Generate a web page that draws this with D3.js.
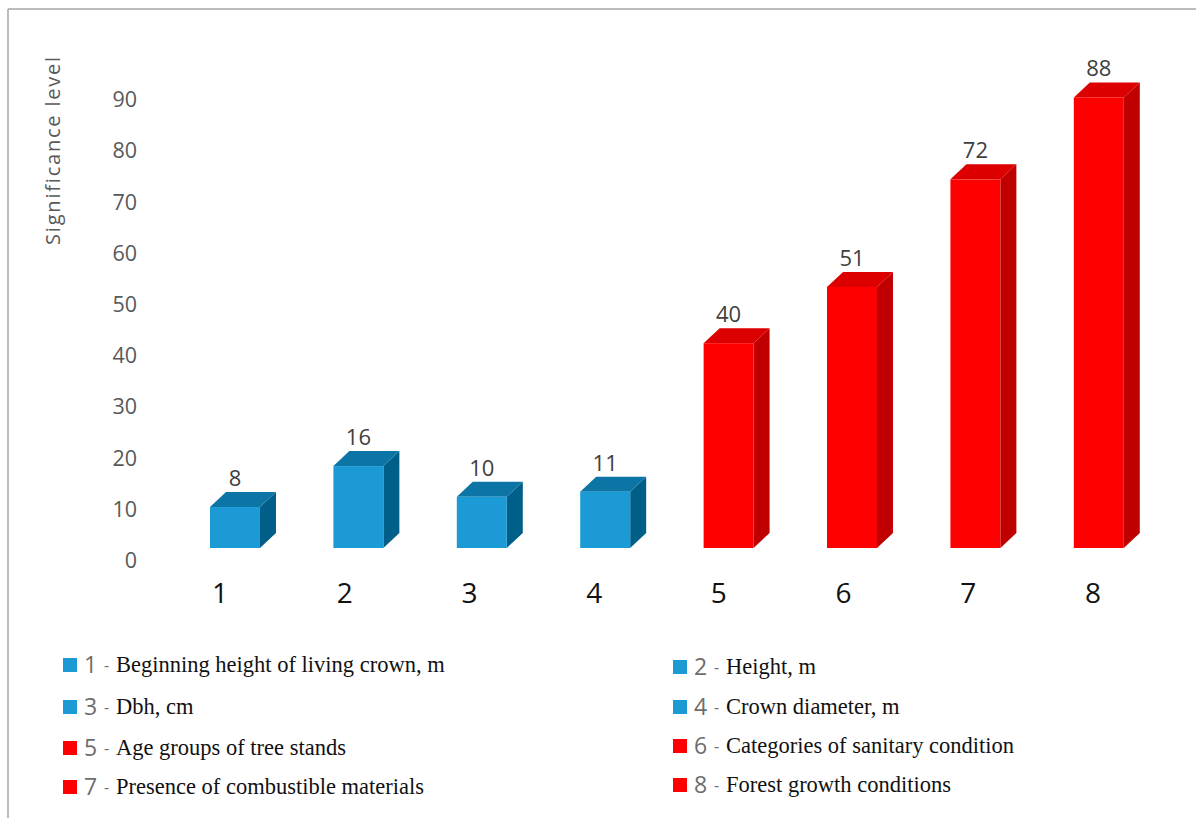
<!DOCTYPE html>
<html>
<head>
<meta charset="utf-8">
<script src="https://cdn.jsdelivr.net/npm/d3@7"></script>
<style>
  html, body { margin: 0; padding: 0; background: #fff; }
  svg { display: block; }
</style>
</head>
<body>
<svg id="chart" width="1196" height="818"></svg>
<script>
const categories = ["1", "2", "3", "4", "5", "6", "7", "8"];
const values = [8, 16, 10, 11, 40, 51, 72, 88];
const groups = ["blue", "blue", "blue", "blue", "red", "red", "red", "red"];
const yTicks = [0, 10, 20, 30, 40, 50, 60, 70, 80, 90];
const legendLabels = [
  "Beginning height of living crown, m",
  "Height, m",
  "Dbh, cm",
  "Crown diameter, m",
  "Age groups of tree stands",
  "Categories of sanitary condition",
  "Presence of combustible materials",
  "Forest growth conditions"
];
const yTitle = "Significance level";

const palette = {
  blue: { front: "#1b9ad6", top: "#0d74a6", side: "#005f88" },
  red:  { front: "#ff0000", top: "#dc0000", side: "#c00000" }
};

const svg = d3.select("#chart");

// frame (top and left lines)
svg.append("line").attr("x1", 8).attr("x2", 1196).attr("y1", 9).attr("y2", 9)
  .attr("stroke", "#a6a6a6").attr("stroke-width", 1.5);
svg.append("line").attr("x1", 8).attr("x2", 8).attr("y1", 9).attr("y2", 818)
  .attr("stroke", "#a6a6a6").attr("stroke-width", 1.5);

// scales
const x = d3.scaleBand().domain(categories).range([210, 1123.8]).paddingInner(0.595).paddingOuter(0);
const yFront = d3.scaleLinear().domain([0, 90]).range([548, 87.2]);
const yAxisScale = d3.scaleLinear().domain([0, 90]).range([560, 99.2]);
const xLabel = d3.scalePoint().domain(categories).range([220, 1093]);

const depthX = 16, depthY = 15;

// Y axis (labels only)
const yAxis = d3.axisLeft(yAxisScale).tickValues(yTicks).tickSize(0).tickPadding(0);
const gy = svg.append("g").attr("transform", "translate(137,0)").call(yAxis);
gy.select(".domain").remove();
gy.selectAll("text")
  .attr("font-family", "'Open Sans', sans-serif")
  .attr("font-size", 21.5)
  .attr("fill", "#595959")
  .attr("dy", "0.35em");

// Y title
svg.append("text")
  .attr("transform", "translate(60,150) rotate(-90)")
  .attr("text-anchor", "middle")
  .attr("font-family", "'Open Sans', sans-serif")
  .attr("font-size", 20)
  .attr("letter-spacing", 1.8)
  .attr("fill", "#595959")
  .text(yTitle);

// bars
const bars = svg.append("g").selectAll("g.bar")
  .data(categories.map((c, i) => ({ c, v: values[i], g: groups[i] })))
  .join("g").attr("class", "bar");

bars.each(function(d) {
  const g = d3.select(this);
  const x0 = x(d.c), w = x.bandwidth();
  const y0 = yFront(0), y1 = yFront(d.v);
  const col = palette[d.g];
  g.append("path")
    .attr("d", `M${x0 + w},${y1} L${x0 + w + depthX},${y1 - depthY} L${x0 + w + depthX},${y0 - depthY} L${x0 + w},${y0} Z`)
    .attr("fill", col.side);
  g.append("path")
    .attr("d", `M${x0},${y1} L${x0 + depthX},${y1 - depthY} L${x0 + w + depthX},${y1 - depthY} L${x0 + w},${y1} Z`)
    .attr("fill", col.top);
  g.append("rect")
    .attr("x", x0).attr("y", y1).attr("width", w).attr("height", y0 - y1)
    .attr("fill", col.front);
  g.append("text")
    .attr("x", x0 + w / 2)
    .attr("y", y1 - depthY - 6)
    .attr("text-anchor", "middle")
    .attr("font-family", "'Open Sans', sans-serif")
    .attr("font-size", 22)
    .attr("fill", "#404040")
    .text(d.v);
});

// x category labels
svg.append("g").selectAll("text")
  .data(categories)
  .join("text")
  .attr("x", d => xLabel(d))
  .attr("y", 593)
  .attr("dy", "0.35em")
  .attr("text-anchor", "middle")
  .attr("font-family", "'Open Sans', sans-serif")
  .attr("font-size", 28)
  .attr("fill", "#111")
  .text(d => d);

// legend
const colX = [63, 673];
const rowY = [[665, 707, 748, 787], [667, 707, 746, 785]];
const legend = svg.append("g").selectAll("g.item")
  .data(legendLabels.map((t, i) => ({ t, i })))
  .join("g").attr("class", "item")
  .attr("transform", d => {
    const col = d.i % 2, row = Math.floor(d.i / 2);
    return `translate(${colX[col]},${rowY[col][row]})`;
  });

legend.append("rect")
  .attr("x", 0).attr("y", -7).attr("width", 14).attr("height", 14)
  .attr("fill", d => palette[groups[d.i]].front);
legend.append("text")
  .attr("x", 21).attr("dy", "0.35em")
  .attr("font-family", "'Open Sans', sans-serif")
  .attr("font-size", 23)
  .attr("fill", "#6d6d6d")
  .text(d => categories[d.i]);
legend.append("text")
  .attr("x", 41).attr("dy", "0.35em")
  .attr("font-family", "'Open Sans', sans-serif")
  .attr("font-size", 16)
  .attr("fill", "#6d6d6d")
  .text("-");
legend.append("text")
  .attr("x", 53).attr("dy", "0.33em")
  .attr("font-family", "'Liberation Serif', 'DejaVu Serif', serif")
  .attr("font-size", 22.5)
  .attr("fill", "#111")
  .text(d => d.t);
</script>
</body>
</html>
